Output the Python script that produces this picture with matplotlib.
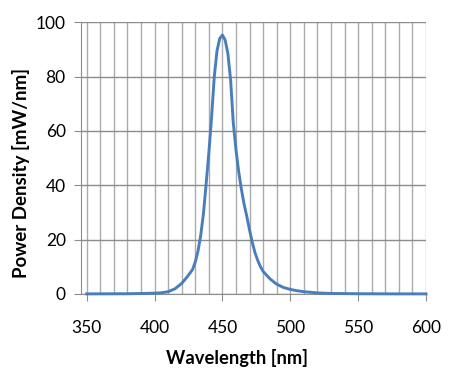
import numpy as np
import matplotlib.pyplot as plt
from matplotlib.ticker import MultipleLocator

# spectrum
wavelength = [350, 360, 370, 380, 390, 400, 405, 410, 415, 420, 424, 428, 430, 432,
              434, 436, 438, 440, 442, 444, 446, 448, 450, 452, 454, 456, 458, 460,
              462, 464, 466, 468, 470, 472, 474, 476, 478, 480, 485, 490, 495, 500,
              505, 510, 520, 530, 550, 575, 600]
power = [0.05, 0.06, 0.08, 0.1, 0.18, 0.3, 0.45, 0.85, 1.9, 3.9, 6.3, 9.0, 11.8, 15.8,
         21.5, 29.5, 40.5, 52, 65, 80, 89.5, 94, 95.3, 93.5, 88.6, 79, 63, 53,
         45, 38.5, 33, 28.5, 23.5, 19, 15.2, 12.4, 10.1, 8.3, 5.6, 3.6, 2.4, 1.7,
         1.2, 0.85, 0.4, 0.2, 0.1, 0.05, 0.05]

xticks = [350, 400, 450, 500, 550, 600]
yticks = [0, 20, 40, 60, 80, 100]

plt.rcParams['font.family'] = ['Lato', 'DejaVu Sans']

fig = plt.figure(figsize=(4.69, 3.82), dpi=100)
ax = fig.add_axes([81/469, 1-294/382, (426-81)/469, (294-22.3)/382])

ax.set_xlim(345.8, 600)
ax.set_ylim(0, 100)
ax.set_xticks(xticks)
ax.set_yticks(yticks)
ax.xaxis.set_minor_locator(MultipleLocator(10))
ax.grid(which='both', axis='x', color='#ababab', lw=1)
ax.grid(which='major', axis='y', color='#8c8c8c', lw=1)
ax.set_axisbelow(True)

ax.plot(wavelength, power, color='#4a7ebb', lw=2.1, zorder=3, clip_on=False,
        solid_joinstyle='round')

for s in ['top', 'right']:
    ax.spines[s].set_visible(False)
ax.spines['left'].set_color('#8c8c8c')
ax.spines['bottom'].set_color('#8c8c8c')
ax.tick_params(axis='both', which='major', color='#8c8c8c', length=5, labelsize=12.5)
ax.tick_params(axis='x', which='minor', length=0)
ax.tick_params(axis='x', pad=14)
ax.tick_params(axis='y', pad=6)

fig.text(237/469, 1-358/382, 'Wavelength [nm]', ha='center', va='center',
         fontsize=13.2, fontweight='bold')
fig.text(21/469, 1-173/382, 'Power Density [mW/nm]', ha='center', va='center',
         rotation=90, fontsize=13.5, fontweight='bold')

fig.savefig('out.png', dpi=100)
